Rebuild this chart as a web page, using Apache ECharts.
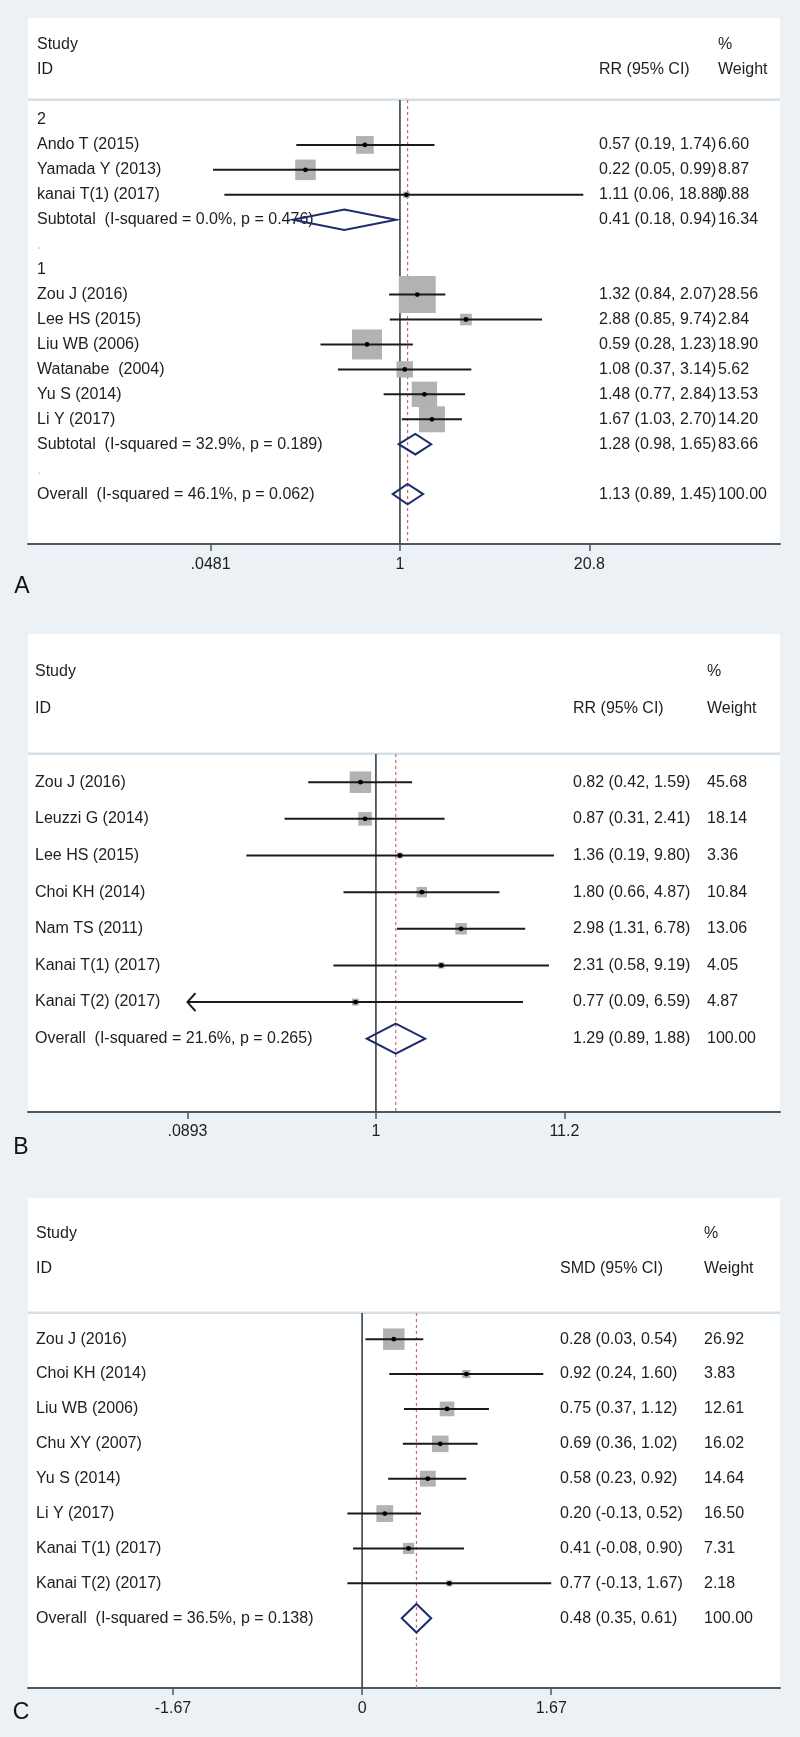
<!DOCTYPE html>
<html><head><meta charset="utf-8">
<script src="https://cdn.jsdelivr.net/npm/echarts@6/dist/echarts.min.js"></script>
<style>html,body{margin:0;padding:0;background:#ebf1f5}#c{width:800px;height:1737px}</style>
</head><body><div id="c"></div>
<script>
// ---------- Panel A (RR, log scale, subgroups) ----------
const aLabels = ['2','Ando T (2015)','Yamada Y (2013)','kanai T(1) (2017)','Subtotal  (I-squared = 0.0%, p = 0.476)','.','1','Zou J (2016)','Lee HS (2015)','Liu WB (2006)','Watanabe  (2004)','Yu S (2014)','Li Y (2017)','Subtotal  (I-squared = 32.9%, p = 0.189)','.','Overall  (I-squared = 46.1%, p = 0.062)'];
const aEst    = [null,0.57,0.22,1.11,0.41,null,null,1.32,2.88,0.59,1.08,1.48,1.67,1.28,null,1.13];
const aLow    = [null,0.19,0.05,0.06,0.18,null,null,0.84,0.85,0.28,0.37,0.77,1.03,0.98,null,0.89];
const aHigh   = [null,1.74,0.99,18.88,0.94,null,null,2.07,9.74,1.23,3.14,2.84,2.70,1.65,null,1.45];
const aWeight = [null,6.60,8.87,0.88,16.34,null,null,28.56,2.84,18.90,5.62,13.53,14.20,83.66,null,100.00];
const aPooled = [false,false,false,false,true,false,false,false,false,false,false,false,false,true,false,true];
const aTicks = [0.0481, 1, 20.8];
const aTickLabels = ['.0481','1','20.8'];
const aEffect = 'RR (95% CI)';

// ---------- Panel B ----------
const bLabels = ['Zou J (2016)','Leuzzi G (2014)','Lee HS (2015)','Choi KH (2014)','Nam TS (2011)','Kanai T(1) (2017)','Kanai T(2) (2017)','Overall  (I-squared = 21.6%, p = 0.265)'];
const bEst    = [0.82,0.87,1.36,1.80,2.98,2.31,0.77,1.29];
const bLow    = [0.42,0.31,0.19,0.66,1.31,0.58,0.087,0.89];
const bHigh   = [1.59,2.41,9.80,4.87,6.78,9.19,6.59,1.88];
const bWeight = [45.68,18.14,3.36,10.84,13.06,4.05,4.87,100.00];
const bPooled = [false,false,false,false,false,false,false,true];
const bTicks = [0.0893, 1, 11.2];
const bTickLabels = ['.0893','1','11.2'];
const bEffect = 'RR (95% CI)';

// ---------- Panel C (SMD, linear) ----------
const cLabels = ['Zou J (2016)','Choi KH (2014)','Liu WB (2006)','Chu XY (2007)','Yu S (2014)','Li Y (2017)','Kanai T(1) (2017)','Kanai T(2) (2017)','Overall  (I-squared = 36.5%, p = 0.138)'];
const cEst    = [0.28,0.92,0.75,0.69,0.58,0.20,0.41,0.77,0.48];
const cLow    = [0.03,0.24,0.37,0.36,0.23,-0.13,-0.08,-0.13,0.35];
const cHigh   = [0.54,1.60,1.12,1.02,0.92,0.52,0.90,1.67,0.61];
const cWeight = [26.92,3.83,12.61,16.02,14.64,16.50,7.31,2.18,100.00];
const cPooled = [false,false,false,false,false,false,false,false,true];
const cTicks = [-1.67, 0, 1.67];
const cTickLabels = ['-1.67','0','1.67'];
const cEffect = 'SMD (95% CI)';

const FONT = '"Liberation Sans", Arial, Helvetica, sans-serif';
const TXT = '#1e1e1e';
const AXIS = '#4a5965';

const panels = [
  {letter:'A', labels:aLabels, est:aEst, low:aLow, high:aHigh, weight:aWeight, pooled:aPooled, ticks:aTicks, tickLabels:aTickLabels, effect:aEffect, log:true,
   L:{top:18, sep:100, bottom:544, xMin:-5.96, xMax:6.09, yMin:-0.8, yMax:17, labelX:37, ciX:599, wX:718, studyY:45, idY:70, letterX:22, letterY:587, box:6.9, margin:13}},
  {letter:'B', labels:bLabels, est:bEst, low:bLow, high:bHigh, weight:bWeight, pooled:bPooled, ticks:bTicks, tickLabels:bTickLabels, effect:bEffect, log:true,
   L:{top:634, sep:754, bottom:1112, xMin:-4.46, xMax:5.18, yMin:-0.77, yMax:9, labelX:35, ciX:573, wX:707, studyY:672, idY:709, letterX:21, letterY:1148, box:3.18, margin:12}},
  {letter:'C', labels:cLabels, est:cEst, low:cLow, high:cHigh, weight:cWeight, pooled:cPooled, ticks:cTicks, tickLabels:cTickLabels, effect:cEffect, log:false,
   L:{top:1198, sep:1313, bottom:1688, xMin:-2.95, xMax:3.69, yMin:-0.75, yMax:10, labelX:36, ciX:560, wX:704, studyY:1234, idY:1269, letterX:21, letterY:1713, box:4.14, margin:13}}
];

const grids = [], xAxes = [], yAxes = [], series = [], graphics = [];
const GL = 28, GW = 752;

panels.forEach((p, gi) => {
  const L = p.L;
  const T = v => p.log ? Math.log(v) : v;
  const tickVals = p.ticks.map(T);
  const clipLo = tickVals[0], clipHi = tickVals[tickVals.length - 1];
  const overallIdx = p.labels.findIndex(s => s.indexOf('Overall') === 0);
  const overallT = T(p.est[overallIdx]);

  grids.push({left:GL, width:GW, top:L.sep, height:L.bottom - L.sep, containLabel:false});
  xAxes.push({
    gridIndex:gi, type:'value', min:L.xMin, max:L.xMax,
    axisLine:{show:true, onZero:false, lineStyle:{color:AXIS, width:2}},
    axisTick:{show:true, length:7, customValues:tickVals, lineStyle:{color:AXIS, width:1.5}},
    axisLabel:{show:true, customValues:tickVals, margin:L.margin, fontSize:16, fontFamily:FONT, color:TXT,
      formatter:(v) => { const k = tickVals.findIndex(t => Math.abs(t - v) < 1e-6); return k >= 0 ? p.tickLabels[k] : ''; }},
    splitLine:{show:false}
  });
  yAxes.push({gridIndex:gi, type:'value', inverse:true, min:L.yMin, max:L.yMax, show:false});

  // panel backgrounds, header separator, header texts, letter
  graphics.push({type:'rect', z:-20, shape:{x:GL, y:L.top, width:GW, height:L.bottom - L.top}, style:{fill:'#ffffff'}});
  graphics.push({type:'rect', z:-19, shape:{x:GL, y:L.sep - 1.5, width:GW, height:2.5}, style:{fill:'#d4dfe8'}});
  const hdr = (t, x, y) => graphics.push({type:'text', z:20, x:x, y:y, style:{text:t, font:'16px ' + FONT, fill:TXT, align:'left', verticalAlign:'middle'}});
  hdr('Study', L.labelX, L.studyY);
  hdr('ID', L.labelX, L.idY);
  hdr('%', L.wX, L.studyY);
  hdr(p.effect, L.ciX, L.idY);
  hdr('Weight', L.wX, L.idY);
  graphics.push({type:'text', z:20, x:L.letterX, y:L.letterY, style:{text:p.letter, font:'23px ' + FONT, fill:'#111', align:'center', verticalAlign:'middle'}});

  // reference lines (null effect solid, overall estimate dashed)
  series.push({
    type:'custom', xAxisIndex:gi, yAxisIndex:gi, silent:true, z:1,
    data:[[T(p.log ? 1 : 0), 0, 0], [overallT, 0, 1]],
    renderItem:(params, api) => {
      const x = api.coord([api.value(0), L.yMin])[0];
      const y1 = api.coord([api.value(0), L.yMin])[1];
      const y2 = api.coord([api.value(0), L.yMax])[1];
      const dashed = api.value(2) === 1;
      return {type:'line', shape:{x1:x, y1:y1, x2:x, y2:y2},
        style: dashed ? {stroke:'#c4687c', lineWidth:1.2, lineDash:[3,3]} : {stroke:'#34404a', lineWidth:1.6}};
    }
  });

  // study rows
  const studyData = [];
  p.est.forEach((e, i) => {
    if (e !== null && !p.pooled[i]) studyData.push([T(e), i, T(p.low[i]), T(p.high[i]), p.weight[i]]);
  });
  // weight boxes
  series.push({
    type:'custom', xAxisIndex:gi, yAxisIndex:gi, silent:true, z:2, data:studyData,
    renderItem:(params, api) => {
      const c = api.coord([api.value(0), api.value(1)]);
      const s = L.box * Math.sqrt(api.value(4));
      return {type:'rect', shape:{x:c[0] - s/2, y:c[1] - s/2, width:s, height:s}, style:{fill:'#b2b2b2'}};
    }
  });
  // CI lines + point markers
  series.push({
    type:'custom', xAxisIndex:gi, yAxisIndex:gi, silent:true, z:3, data:studyData,
    renderItem:(params, api) => {
      const row = api.value(1);
      const lo = api.value(2), hi = api.value(3);
      const loC = Math.max(lo, clipLo), hiC = Math.min(hi, clipHi);
      const pL = api.coord([loC, row]), pH = api.coord([hiC, row]);
      const pE = api.coord([api.value(0), row]);
      const children = [
        {type:'line', shape:{x1:pL[0], y1:pL[1], x2:pH[0], y2:pH[1]}, style:{stroke:'#1a1a1a', lineWidth:2}},
        {type:'circle', shape:{cx:pE[0], cy:pE[1], r:2.4}, style:{fill:'#000'}}
      ];
      if (lo < clipLo) children.push({type:'polyline', shape:{points:[[pL[0] + 8, pL[1] - 9], [pL[0], pL[1]], [pL[0] + 8, pL[1] + 9]]}, style:{stroke:'#1a1a1a', lineWidth:2, fill:null}});
      if (hi > clipHi) children.push({type:'polyline', shape:{points:[[pH[0] - 8, pH[1] - 9], [pH[0], pH[1]], [pH[0] - 8, pH[1] + 9]]}, style:{stroke:'#1a1a1a', lineWidth:2, fill:null}});
      return {type:'group', children};
    }
  });

  // text columns
  series.push({
    type:'custom', xAxisIndex:gi, yAxisIndex:gi, silent:true, z:4,
    data:p.labels.map((_, i) => [L.xMin, i]),
    renderItem:(params, api) => {
      const i = params.dataIndex;
      const y = api.coord([L.xMin, api.value(1)])[1];
      const font = '16px ' + FONT;
      const lab = p.labels[i];
      const children = [{type:'text', x:L.labelX, y:y, style:{text:lab, font, fill: lab === '.' ? '#c9d2da' : TXT, align:'left', verticalAlign:'middle'}}];
      if (p.est[i] !== null) {
        const ci = p.est[i].toFixed(2) + ' (' + p.low[i].toFixed(2) + ', ' + p.high[i].toFixed(2) + ')';
        children.push({type:'text', x:L.ciX, y:y, style:{text:ci, font, fill:TXT, align:'left', verticalAlign:'middle'}});
        children.push({type:'text', x:L.wX, y:y, style:{text:p.weight[i].toFixed(2), font, fill:TXT, align:'left', verticalAlign:'middle'}});
      }
      return {type:'group', children};
    }
  });

  // pooled diamonds
  const poolData = [];
  p.est.forEach((e, i) => { if (e !== null && p.pooled[i]) poolData.push([T(e), i, T(p.low[i]), T(p.high[i])]); });
  series.push({
    type:'custom', xAxisIndex:gi, yAxisIndex:gi, silent:true, z:5, data:poolData,
    renderItem:(params, api) => {
      const row = api.value(1);
      const c = api.coord([api.value(0), row]);
      const l = api.coord([api.value(2), row]);
      const r = api.coord([api.value(3), row]);
      const h = api.size([0, 1])[1] * 0.41;
      return {type:'polygon', shape:{points:[[l[0], c[1]], [c[0], c[1] - h], [r[0], c[1]], [c[0], c[1] + h]]},
        style:{fill:'rgba(255,255,255,0)', stroke:'#1d2c6c', lineWidth:2}};
    }
  });
});

const chart = echarts.init(document.getElementById('c'), null, {renderer:'canvas'});
chart.setOption({
  backgroundColor:'#ebf1f5',
  animation:false,
  grid:grids, xAxis:xAxes, yAxis:yAxes, series:series,
  graphic:{elements:graphics}
});
</script>
</body></html>
